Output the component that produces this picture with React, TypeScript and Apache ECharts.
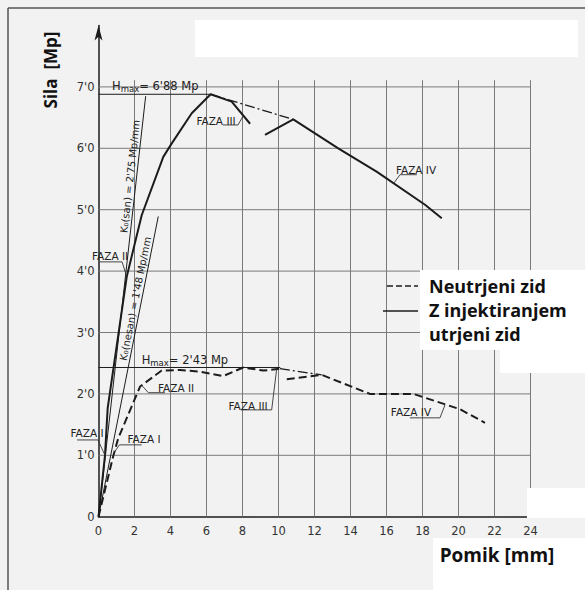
import React, { useEffect, useRef } from "react";
import * as echarts from "echarts";

// ---- axis ticks ----
const xTicks = [0, 2, 4, 6, 8, 10, 12, 14, 16, 18, 20, 22, 24];
const yTicks = [1, 2, 3, 4, 5, 6, 7];
const yTickLabels = ["0", "1'0", "2'0", "3'0", "4'0", "5'0", "6'0", "7'0"];

// ---- Z injektiranjem utrjeni zid (solid) ----
const solidPhase = [
  [0, 0], [0.36, 1.0], [0.51, 1.77], [1.57, 3.91], [2.4, 4.91], [3.6, 5.86],
  [4.07, 6.08], [5.18, 6.57], [6.23, 6.88], [7.4, 6.76], [8.42, 6.4],
];
const solidBridge = [[6.23, 6.88], [10.82, 6.47]];
const solidTail = [
  [9.25, 6.22], [10.82, 6.47], [13.32, 6.0], [15.45, 5.62], [18.14, 5.08], [19.07, 4.86],
];

// ---- Neutrjeni zid (dashed) ----
const dashedPhase = [
  [0, 0], [0.82, 0.99], [1.1, 1.28], [2.31, 2.12], [3.51, 2.38], [4.53, 2.39],
  [5.64, 2.36], [6.93, 2.29], [8.04, 2.43], [9.16, 2.38], [10.08, 2.41],
];
const dashedBridge = [[10.08, 2.41], [12.4, 2.31]];
const dashedTail = [
  [10.46, 2.24], [12.4, 2.31], [15.08, 2.0], [17.49, 2.0], [20.08, 1.75], [21.47, 1.53],
];

// ---- reference lines ----
const kSan = [[0, 0], [2.62, 6.85]];
const kNesan = [[0, 0], [3.32, 4.89]];
const hmaxSolid = [[0, 6.88], [6.23, 6.88]];
const hmaxDashed = [[0, 2.43], [10.1, 2.43]];
const gridTopY = 7.11;
const gridRightX = 24.25;

// ---- annotations (data coordinates) ----
const phaseLabels = [
  { text: "FAZA I", at: [-0.64, 1.36], leader: [[-1.19, 1.25], [-0.03, 1.25], [0.36, 1.0]] },
  { text: "FAZA II", at: [0.64, 4.24], leader: [[0.08, 4.15], [1.31, 4.15], [1.57, 3.91]] },
  { text: "FAZA III", at: [6.53, 6.44], leader: [[6.92, 6.38], [7.75, 6.38], [8.04, 6.53]] },
  { text: "FAZA IV", at: [17.64, 5.64], leader: [[17.68, 5.57], [16.75, 5.57], [16.4, 5.43]] },
  { text: "FAZA I", at: [2.53, 1.26], leader: [[2.4, 1.17], [1.16, 1.17], [0.86, 1.04]] },
  { text: "FAZA II", at: [4.31, 2.1], leader: [[3.69, 2.02], [2.77, 2.02], [2.4, 2.14]] },
  { text: "FAZA III", at: [8.31, 1.81], leader: [[7.9, 1.74], [9.62, 1.74], [9.9, 2.41]] },
  { text: "FAZA IV", at: [17.36, 1.7], leader: [[17.3, 1.61], [18.97, 1.61], [19.25, 1.82]] },
];
const hmaxLabels = [
  { value: "6'88", at: [0.75, 7.01] },
  { value: "2'43", at: [2.4, 2.55] },
];
const stiffLabels = [
  { text: "K₀(san) = 2'75 Mp/mm", line: kSan, at: [2.115, 5.53] },
  { text: "K₀(nesan) = 1'48 Mp/mm", line: kNesan, at: [2.4, 3.53] },
];
const legendRows = [
  { text: "Neutrjeni zid", y: 286 },
  { text: "Z injektiranjem", y: 310 },
  { text: "utrjeni zid", y: 334 },
];

const INK = "#1c1c1c";
const GRID = "#7a7a7a";
const TECH = "DejaVu Sans";
const BOLD = "'Open Sans', 'Noto Sans', sans-serif";

function lineSeries(name: string, data: number[][], type: any, width: number, color = INK, z = 3) {
  return {
    name,
    type: "line",
    data,
    symbol: "none",
    silent: true,
    z,
    lineStyle: { color, width, type },
  };
}

export default function App() {
  const ref = useRef<HTMLDivElement>(null);
  useEffect(() => {
    const chart = echarts.init(ref.current!, null, { renderer: "svg" });
    const gridSeries: any[] = [];
    xTicks
      .filter((x) => x > 0)
      .forEach((x) => gridSeries.push(lineSeries(`grid x ${x}`, [[x, 0], [x, gridTopY]], "solid", 1, GRID, 1)));
    yTicks.forEach((y) => gridSeries.push(lineSeries(`grid y ${y}`, [[0, y], [gridRightX, y]], "solid", 1, GRID, 1)));

    chart.setOption({
      animation: false,
      backgroundColor: "#f2f2f2",
      grid: { left: 98.5, right: 54.5, top: 25.5, bottom: 73.3 },
      xAxis: {
        type: "value",
        min: 0,
        max: 24,
        interval: 2,
        axisLine: { show: true, lineStyle: { color: INK, width: 1.5 } },
        axisTick: { show: false },
        splitLine: { show: false },
        axisLabel: { margin: 8, fontSize: 11.5, fontFamily: TECH, color: "#333" },
      },
      yAxis: {
        type: "value",
        min: 0,
        max: 8,
        interval: 1,
        axisLine: {
          show: true,
          symbol: ["none", "arrow"],
          symbolSize: [6, 15],
          lineStyle: { color: INK, width: 1.5 },
        },
        axisTick: { show: false },
        splitLine: { show: false },
        axisLabel: {
          margin: 4,
          fontSize: 11.5,
          fontFamily: TECH,
          color: "#333",
          formatter: (v: number) => yTickLabels[v] ?? "",
        },
      },
      series: [
        ...gridSeries,
        lineSeries("Neutrjeni zid", dashedPhase, [8, 4], 2),
        lineSeries("Neutrjeni zid (prehod)", dashedBridge, [10, 3, 2, 3], 1.3),
        lineSeries("Neutrjeni zid (FAZA IV)", dashedTail, [8, 4], 2),
        lineSeries("Z injektiranjem utrjeni zid", solidPhase, "solid", 2),
        lineSeries("Z injektiranjem utrjeni zid (prehod)", solidBridge, [10, 3, 2, 3], 1.3),
        lineSeries("Z injektiranjem utrjeni zid (FAZA IV)", solidTail, "solid", 2),
        lineSeries("K0 san", kSan, "solid", 1),
        lineSeries("K0 nesan", kNesan, "solid", 1),
        lineSeries("Hmax utrjeni", hmaxSolid, "solid", 1),
        lineSeries("Hmax neutrjeni", hmaxDashed, "solid", 1),
      ],
    });

    const px = (p: number[]) => chart.convertToPixel({ gridIndex: 0 }, p) as number[];
    const g: any[] = [];

    // scan patches and frame
    const patches = [
      [195, 20, 383, 37],
      [420, 270, 165, 80],
      [500, 270, 85, 103],
      [527, 488, 58, 30],
      [433, 538, 152, 52],
    ];
    patches.forEach(([x, y, w, h]) =>
      g.push({ type: "rect", z: 5, silent: true, shape: { x, y, width: w, height: h }, style: { fill: "#ffffff" } })
    );
    g.push({ type: "line", z: 6, shape: { x1: 8, y1: 8, x2: 585, y2: 8 }, style: { stroke: "#555", lineWidth: 1.5 } });
    g.push({ type: "line", z: 6, shape: { x1: 8, y1: 8, x2: 8, y2: 590 }, style: { stroke: "#555", lineWidth: 1.5 } });

    // phase labels with leaders
    phaseLabels.forEach((l) => {
      const c = px(l.at);
      g.push({
        type: "text",
        z: 6,
        x: c[0],
        y: c[1],
        style: { text: l.text, fontSize: 10.5, fontFamily: TECH, fill: "#222", align: "center", verticalAlign: "middle" },
      });
      g.push({
        type: "polyline",
        z: 6,
        shape: { points: l.leader.map(px) },
        style: { stroke: "#333", lineWidth: 0.9, fill: "none" },
      });
    });

    // Hmax labels
    hmaxLabels.forEach((h) => {
      const c = px(h.at);
      g.push({
        type: "text",
        z: 6,
        x: c[0],
        y: c[1],
        style: {
          text: `{a|H}{s|max}{a|= ${h.value} Mp}`,
          align: "left",
          verticalAlign: "middle",
          rich: {
            a: { fontSize: 11.5, fontFamily: TECH, fill: "#222", color: "#222" },
            s: { fontSize: 8.5, fontFamily: TECH, fill: "#222", color: "#222", padding: [6, 0, 0, 0] },
          },
        },
      });
    });

    // stiffness labels along lines
    stiffLabels.forEach((s) => {
      const p0 = px(s.line[0]);
      const p1 = px(s.line[1]);
      const a = Math.atan2(p0[1] - p1[1], p1[0] - p0[0]);
      const c = px(s.at);
      const off = 1.5;
      g.push({
        type: "text",
        z: 6,
        x: c[0] - Math.sin(a) * off,
        y: c[1] - Math.cos(a) * off,
        rotation: a,
        style: { text: s.text, fontSize: 10, fontFamily: TECH, fill: "#222", align: "center", verticalAlign: "bottom" },
      });
    });

    // legend
    g.push({ type: "line", z: 7, shape: { x1: 387, y1: 286, x2: 418, y2: 286 }, style: { stroke: INK, lineWidth: 1.6, lineDash: [6, 3] } });
    g.push({ type: "line", z: 7, shape: { x1: 383, y1: 311, x2: 418, y2: 311 }, style: { stroke: INK, lineWidth: 1.6 } });
    legendRows.forEach((r) =>
      g.push({
        type: "text",
        z: 7,
        x: 429,
        y: r.y,
        style: { text: r.text, fontSize: 18, fontWeight: "bold", fontFamily: BOLD, fill: "#111", align: "left", verticalAlign: "middle" },
      })
    );

    // axis titles
    g.push({
      type: "text",
      z: 7,
      x: 50,
      y: 70,
      rotation: Math.PI / 2,
      style: { text: "Sila  [Mp]", fontSize: 17, fontWeight: "bold", fontFamily: BOLD, fill: "#111", align: "center", verticalAlign: "middle" },
    });
    g.push({
      type: "text",
      z: 7,
      x: 497,
      y: 555,
      style: { text: "Pomik [mm]", fontSize: 19, fontWeight: "bold", fontFamily: BOLD, fill: "#111", align: "center", verticalAlign: "middle" },
    });

    chart.setOption({ graphic: g });
    return () => chart.dispose();
  }, []);
  return (
    <div
      ref={ref}
      style={{ position: "fixed", left: 0, top: 0, width: 585, height: 590, background: "#f2f2f2" }}
    />
  );
}
